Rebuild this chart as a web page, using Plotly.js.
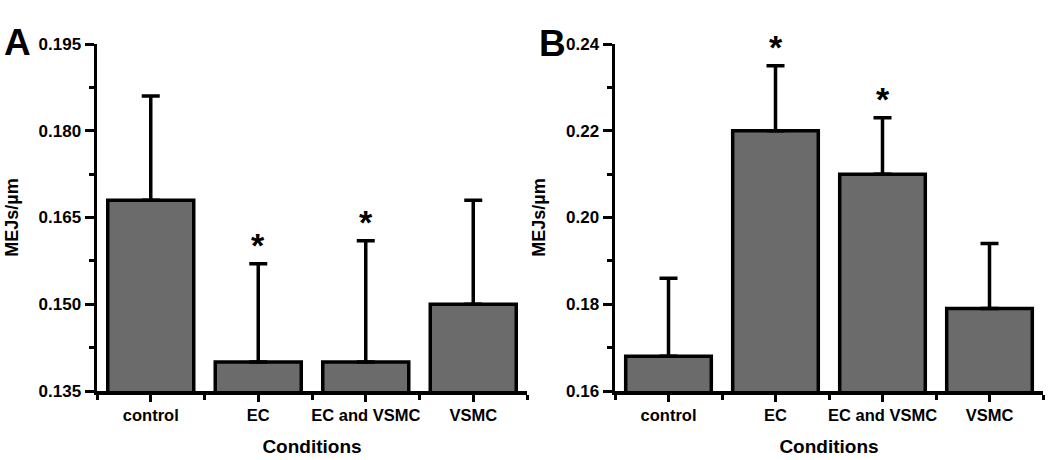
<!DOCTYPE html>
<html>
<head>
<meta charset="utf-8">
<script src="https://cdn.plot.ly/plotly-3.0.1.min.js"></script>
<style>
html,body{margin:0;padding:0;background:#fff;}
#chart{width:1050px;height:460px;}
</style>
</head>
<body>
<div id="chart"></div>
<script>
// Data
const categories = ["control", "EC", "EC and VSMC", "VSMC"];
const valuesA = [0.168, 0.140, 0.140, 0.150];
const errorsA = [0.018, 0.017, 0.021, 0.018];
const valuesB = [0.168, 0.220, 0.210, 0.179];
const errorsB = [0.018, 0.015, 0.013, 0.015];
const significantA = [false, true, true, false];
const significantB = [false, true, true, false];
const yTicksA = [0.135, 0.150, 0.165, 0.180, 0.195];
const yTickTextA = ["0.135", "0.150", "0.165", "0.180", "0.195"];
const yTicksB = [0.16, 0.18, 0.20, 0.22, 0.24];
const yTickTextB = ["0.16", "0.18", "0.20", "0.22", "0.24"];
const panelLabels = ["A", "B"];
const yTitle = "MEJs/\u00b5m";
const xTitle = "Conditions";

const xIdx = categories.map((c, i) => i);
const FONT = "Liberation Sans, Arial, sans-serif";
const barColor = "#6b6b6b";
const LW = 3.5;

function barTrace(vals, errs, xa, ya) {
  return {
    type: "bar",
    x: xIdx,
    y: vals,
    xaxis: xa,
    yaxis: ya,
    width: 0.8,
    marker: { color: barColor, line: { color: "#000", width: LW } },
    error_y: {
      type: "data", symmetric: false, array: errs,
      arrayminus: errs.map(() => 0),
      color: "#000", thickness: LW, width: 9
    },
    hoverinfo: "skip",
    showlegend: false
  };
}

function xAxis(domain) {
  return {
    domain: domain,
    range: [-0.5, 3.5],
    tickmode: "array",
    tickvals: xIdx,
    ticktext: categories,
    ticks: "outside", ticklen: 7, tickwidth: 3, tickcolor: "#000",
    minor: { tickmode: "array", tickvals: [-0.5, 0.5, 1.5, 2.5, 3.5], ticks: "outside", ticklen: 5, tickwidth: 3, tickcolor: "#000" },
    showline: true, linewidth: LW, linecolor: "#000",
    showgrid: false, zeroline: false,
    tickfont: { family: FONT, size: 16.5, color: "#000", weight: "bold" },
    title: { text: "<b>" + xTitle + "</b>", font: { family: FONT, size: 19, color: "#000" }, standoff: 17 },
    fixedrange: true
  };
}

function yAxis(range, tv, tt, dminor, anchor) {
  return {
    domain: [0.15, 0.9043],
    anchor: anchor,
    range: range,
    tickmode: "array",
    tickvals: tv,
    ticktext: tt,
    ticks: "outside", ticklen: 9, tickwidth: 3, tickcolor: "#000",
    minor: { dtick: dminor, tick0: range[0], ticks: "outside", ticklen: 5, tickwidth: 3, tickcolor: "#000" },
    showline: true, linewidth: LW, linecolor: "#000",
    showgrid: false, zeroline: false,
    tickfont: { family: FONT, size: 17, color: "#000", weight: "bold" },
    title: { text: "<b>" + yTitle + "</b>", font: { family: FONT, size: 18, color: "#000" }, standoff: 16 },
    fixedrange: true
  };
}

const data = [
  barTrace(valuesA, errorsA, "x", "y"),
  barTrace(valuesB, errorsB, "x2", "y2")
];

const annotations = [];
function stars(vals, errs, sig, xref, yref) {
  sig.forEach((s, i) => {
    if (!s) return;
    annotations.push({
      x: i, y: vals[i] + errs[i], xref: xref, yref: yref,
      text: "<b>*</b>", showarrow: false,
      yanchor: "bottom", yshift: -2,
      font: { family: FONT, size: 34, color: "#000" }
    });
  });
}
stars(valuesA, errorsA, significantA, "x", "y");
stars(valuesB, errorsB, significantB, "x2", "y2");

annotations.push({
  x: 17 / 1050, y: 1 - 42 / 460, xref: "paper", yref: "paper",
  text: "<b>" + panelLabels[0] + "</b>", showarrow: false,
  xanchor: "center", yanchor: "middle",
  font: { family: FONT, size: 37, color: "#000" }
});
annotations.push({
  x: 552 / 1050, y: 1 - 43 / 460, xref: "paper", yref: "paper",
  text: "<b>" + panelLabels[1] + "</b>", showarrow: false,
  xanchor: "center", yanchor: "middle",
  font: { family: FONT, size: 37, color: "#000" }
});

const layout = {
  width: 1050, height: 460,
  margin: { l: 0, r: 0, t: 0, b: 0 },
  paper_bgcolor: "#fff", plot_bgcolor: "#fff",
  bargap: 0.2,
  xaxis: Object.assign(xAxis([97 / 1050, 527 / 1050]), { anchor: "y" }),
  yaxis: yAxis([0.135, 0.195], yTicksA, yTickTextA, 0.0075, "x"),
  xaxis2: Object.assign(xAxis([615 / 1050, 1043 / 1050]), { anchor: "y2" }),
  yaxis2: yAxis([0.16, 0.24], yTicksB, yTickTextB, 0.01, "x2"),
  annotations: annotations,
  font: { family: FONT, color: "#000" }
};

Plotly.newPlot("chart", data, layout, { staticPlot: true, displayModeBar: false });
</script>
</body>
</html>
